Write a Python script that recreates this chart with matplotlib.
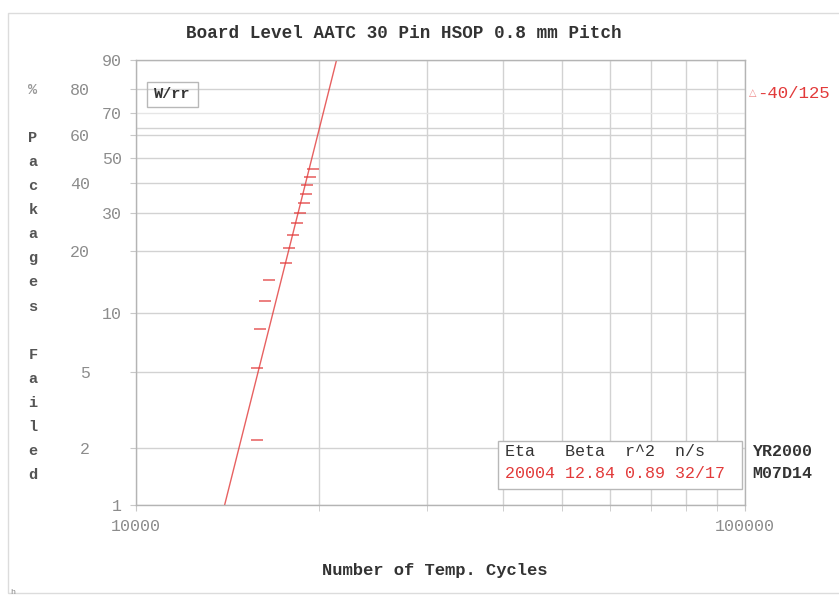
import numpy as np
import matplotlib
matplotlib.use("Agg")
import matplotlib.pyplot as plt
from matplotlib.patches import Rectangle

# ---------------- data ----------------
cycles = [15800, 15800, 15980, 16290, 16540, 17630, 17830, 18100,
          18380, 18590, 18870, 19020, 19090, 19310, 19530]
pct_failed = [2.2, 5.2, 8.3, 11.4, 14.5, 17.6, 20.7, 23.8,
              26.9, 29.9, 33.0, 36.1, 39.2, 42.3, 45.4]
eta = 20004
beta = 12.84
r2 = 0.89
n_total = 32
n_susp = 17
y_ticks = [1, 2, 5, 10, 20, 30, 40, 50, 60, 70, 80, 90]
y_ticklabels = ["1", "2", "5", "10", "20", "30", "40", "50", "60", "70", "80", "90"]
x_ticks = [10000, 100000]
x_ticklabels = ["10000", "100000"]
x_minor = [20000, 30000, 40000, 50000, 60000, 70000, 80000, 90000]
title = "Board Level AATC 30 Pin HSOP 0.8 mm Pitch"
xlabel = "Number of Temp. Cycles"
ylabel_chars = ["%", "", "P", "a", "c", "k", "a", "g", "e", "s", "",
                "F", "a", "i", "l", "e", "d"]

W, H = 839, 599
MONO = ["Liberation Mono", "DejaVu Sans Mono", "DejaVu Sans"]
RED = "#e23a3a"
GRID = "#d2d2d2"
TICKC = "#8c8c8c"

def fx(px):
    return px / W

def fy(py):
    return 1 - py / H

def fwd(F):
    F = np.clip(np.asarray(F, dtype=float), 1e-9, 100 - 1e-9)
    return np.log(-np.log(1 - F / 100.0))

def inv(y):
    return 100.0 * (1 - np.exp(-np.exp(np.asarray(y, dtype=float))))

fig = plt.figure(figsize=(W / 100, H / 100), dpi=100)
fig.patch.set_facecolor("white")

# outer frame
fig.patches.append(Rectangle((fx(8), fy(593)), fx(845) - fx(8), fy(13) - fy(593),
                             transform=fig.transFigure, fill=False,
                             edgecolor="#dcdcdc", lw=1.0))

ax = fig.add_axes([fx(136), fy(505), fx(745) - fx(136), fy(60) - fy(505)])
ax.set_xscale("log")
ax.set_yscale("function", functions=(fwd, inv))
ax.set_xlim(10000, 100000)
ax.set_ylim(1, 90)

# grid
ax.set_yticks(y_ticks)
ax.set_yticklabels(y_ticklabels, family=MONO, fontsize=12, color=TICKC)
ax.yaxis.set_minor_locator(matplotlib.ticker.NullLocator())
ax.set_xticks(x_ticks)
ax.set_xticklabels(x_ticklabels, family=MONO, fontsize=12, color=TICKC)
ax.set_xticks(x_minor, minor=True)
ax.xaxis.set_minor_formatter(matplotlib.ticker.NullFormatter())
ax.grid(True, which="both", axis="x", color=GRID, lw=1.0)
ax.grid(True, which="major", axis="y", color=GRID, lw=1.0)
for gl, lab in zip(ax.yaxis.get_gridlines(), y_ticklabels):
    if lab == "70":
        gl.set_color("#e6e6e6")
ax.axhline(63.2, color=GRID, lw=1.0)
ax.tick_params(axis="both", which="both", direction="out", length=4, color="#c8c8c8")
ax.tick_params(axis="x", which="major", pad=6)

# staggered y tick labels
near = {"1", "10", "30", "50", "70", "90"}
for t, lab in zip(ax.yaxis.get_major_ticks(), y_ticklabels):
    t.set_pad(6 if lab in near else 29)

for s in ax.spines.values():
    s.set_color("#b4b4b4")
    s.set_linewidth(1.0)

# fit line from eta/beta
F_line = np.array([1.0, 90.0])
t_line = eta * (-np.log(1 - F_line / 100.0)) ** (1.0 / beta)
ax.plot(t_line, F_line, color=RED, lw=1.0, alpha=0.8)

# data points
ax.plot(cycles, pct_failed, linestyle="none", marker="_", markersize=9,
        markeredgewidth=1.3, color=RED, alpha=0.7)

# title and axis labels
fig.text(fx(404), fy(33), title, family=MONO, fontsize=12.7, fontweight="bold",
         color="#333333", ha="center", va="center")
fig.text(fx(435), fy(570), xlabel, family=MONO, fontsize=12.3, fontweight="bold",
         color="#333333", ha="center", va="center")
y0, dy = 90, 24.06
for i, ch in enumerate(ylabel_chars):
    if ch:
        fig.text(fx(33), fy(y0 + i * dy), ch, family=MONO, fontsize=11,
                 fontweight="bold", color="#555555" if ch != "%" else "#999999",
                 ha="center", va="center")

# W/rr box
fig.text(fx(172), fy(94), "W/rr", family=MONO, fontsize=11, fontweight="bold",
         color="#333333", ha="center", va="center")
fig.patches.append(Rectangle((fx(147), fy(107)), fx(198) - fx(147), fy(82) - fy(107),
                             transform=fig.transFigure, fill=False,
                             edgecolor="#b8b8b8", lw=1.0))

# right side label
fig.text(fx(749), fy(93), "\u25b3", family=["DejaVu Sans"], fontsize=7,
         color="#ee8888", ha="left", va="center")
fig.text(fx(757), fy(93), "-40/125", family=MONO, fontsize=12.5,
         color=RED, ha="left", va="center")

# parameter table
fig.patches.append(Rectangle((fx(498), fy(489)), fx(742) - fx(498), fy(441) - fy(489),
                             transform=fig.transFigure, facecolor="white",
                             edgecolor="#b8b8b8", lw=1.0, zorder=5))
fig.text(fx(505), fy(452), "Eta   Beta  r^2  n/s", family=MONO, fontsize=12,
         color="#333333", ha="left", va="center", zorder=6)
fig.text(fx(505), fy(473), f"{eta} {beta:.2f} {r2:.2f} {n_total}/{n_susp}",
         family=MONO, fontsize=12, color=RED, ha="left", va="center", zorder=6)
fig.text(fx(752), fy(452), "YR2000", family=MONO, fontsize=12, fontweight="bold",
         color="#333333", ha="left", va="center")
fig.text(fx(752), fy(473), "M07D14", family=MONO, fontsize=12, fontweight="bold",
         color="#333333", ha="left", va="center")

fig.text(fx(13), fy(593), "h", family=MONO, fontsize=6, color="#888888",
         ha="center", va="center")

fig.savefig("out.png", dpi=100, facecolor="white")
